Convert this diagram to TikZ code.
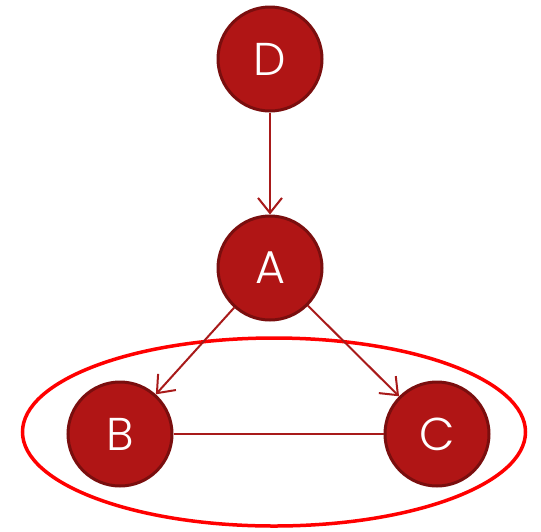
\documentclass[tikz,border=0pt]{standalone}
\usepackage{fontspec}
\IfFontExistsTF{Poppins Light}{\setmainfont{Poppins Light}}{\setmainfont{Poppins}}
\usetikzlibrary{arrows.meta,shapes.geometric}
\definecolor{nodefill}{HTML}{B01515}
\definecolor{nodeedge}{HTML}{7A0E0E}
\definecolor{edgecol}{HTML}{A81A1A}
\definecolor{ringred}{HTML}{FF0000}
\begin{document}
\begin{tikzpicture}[x=1pt,y=-1pt,
  vertex/.style={circle,fill=nodefill,draw=nodeedge,line width=3pt,minimum size=104pt,inner sep=0pt,text=white,font=\fontsize{46}{48}\selectfont},
  link/.style={draw=edgecol,line width=2pt},
  arrowlink/.style={link,-{Straight Barb[length=15pt,width=24pt,line width=2pt]}}]
\useasboundingbox (0,0) rectangle (541,531);
\node[draw=ringred,line width=3.5pt,ellipse,minimum width=503pt,minimum height=188pt,inner sep=0pt] (ring) at (274,432) {};
\node[vertex] (D) at (270,59) {D};
\node[vertex] (A) at (270,268) {A};
\node[vertex] (B) at (120,434) {B};
\node[vertex] (C) at (437,434) {C};
\draw[arrowlink] (D) -- (A);
\draw[arrowlink] (A) -- (B);
\draw[arrowlink] (A) -- (C);
\draw[link] (B) -- (C);
\end{tikzpicture}
\end{document}
